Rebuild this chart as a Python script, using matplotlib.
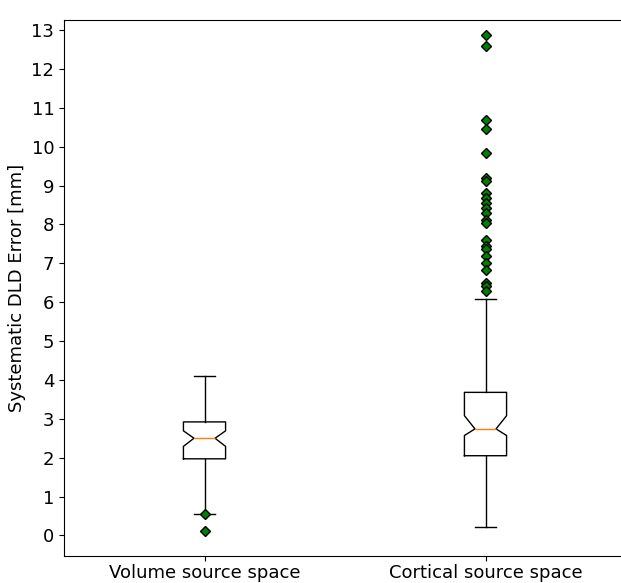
import matplotlib
matplotlib.use("Agg")
import matplotlib.pyplot as plt

# summary stats
labels = ["Volume source space", "Cortical source space"]
medians = [2.50, 2.74]
q1s = [1.97, 2.05]
q3s = [2.92, 3.68]
ci_low = [2.29, 2.57]
ci_high = [2.69, 3.08]
whisk_low = [0.56, 0.22]
whisk_high = [4.10, 6.07]
fliers_vol = [0.54, 0.11]
fliers_cort = [12.87, 12.60, 10.69, 10.46, 9.84, 9.19, 9.11, 8.81, 8.68, 8.55,
               8.42, 8.30, 8.12, 8.04, 7.61, 7.44, 7.36, 7.18, 7.01, 6.84,
               6.50, 6.41, 6.29]
fliers = [fliers_vol, fliers_cort]

stats = []
for i in range(len(labels)):
    stats.append(dict(label=labels[i], med=medians[i], q1=q1s[i], q3=q3s[i],
                      cilo=ci_low[i], cihi=ci_high[i],
                      whislo=whisk_low[i], whishi=whisk_high[i],
                      fliers=fliers[i]))

fig = plt.figure(figsize=(6.21, 5.83), dpi=100)
ax = fig.add_axes([64/621, 1 - 556/583, 562/621, 536/583])

flierprops = dict(marker="D", markerfacecolor="green", markeredgecolor="black",
                  markersize=5.5, markeredgewidth=1)
ax.bxp(stats, shownotches=True, widths=0.15, flierprops=flierprops,
       medianprops=dict(color="C1"))

ax.set_xlim(0.5, 2.5)
ax.set_ylim(-0.53, 13.26)
ax.set_yticks(range(0, 14))
ax.tick_params(labelsize=13)
ax.tick_params(axis="x", pad=2)
ax.set_ylabel("Systematic DLD Error [mm]", fontsize=13)

fig.savefig("out.png", dpi=100)
